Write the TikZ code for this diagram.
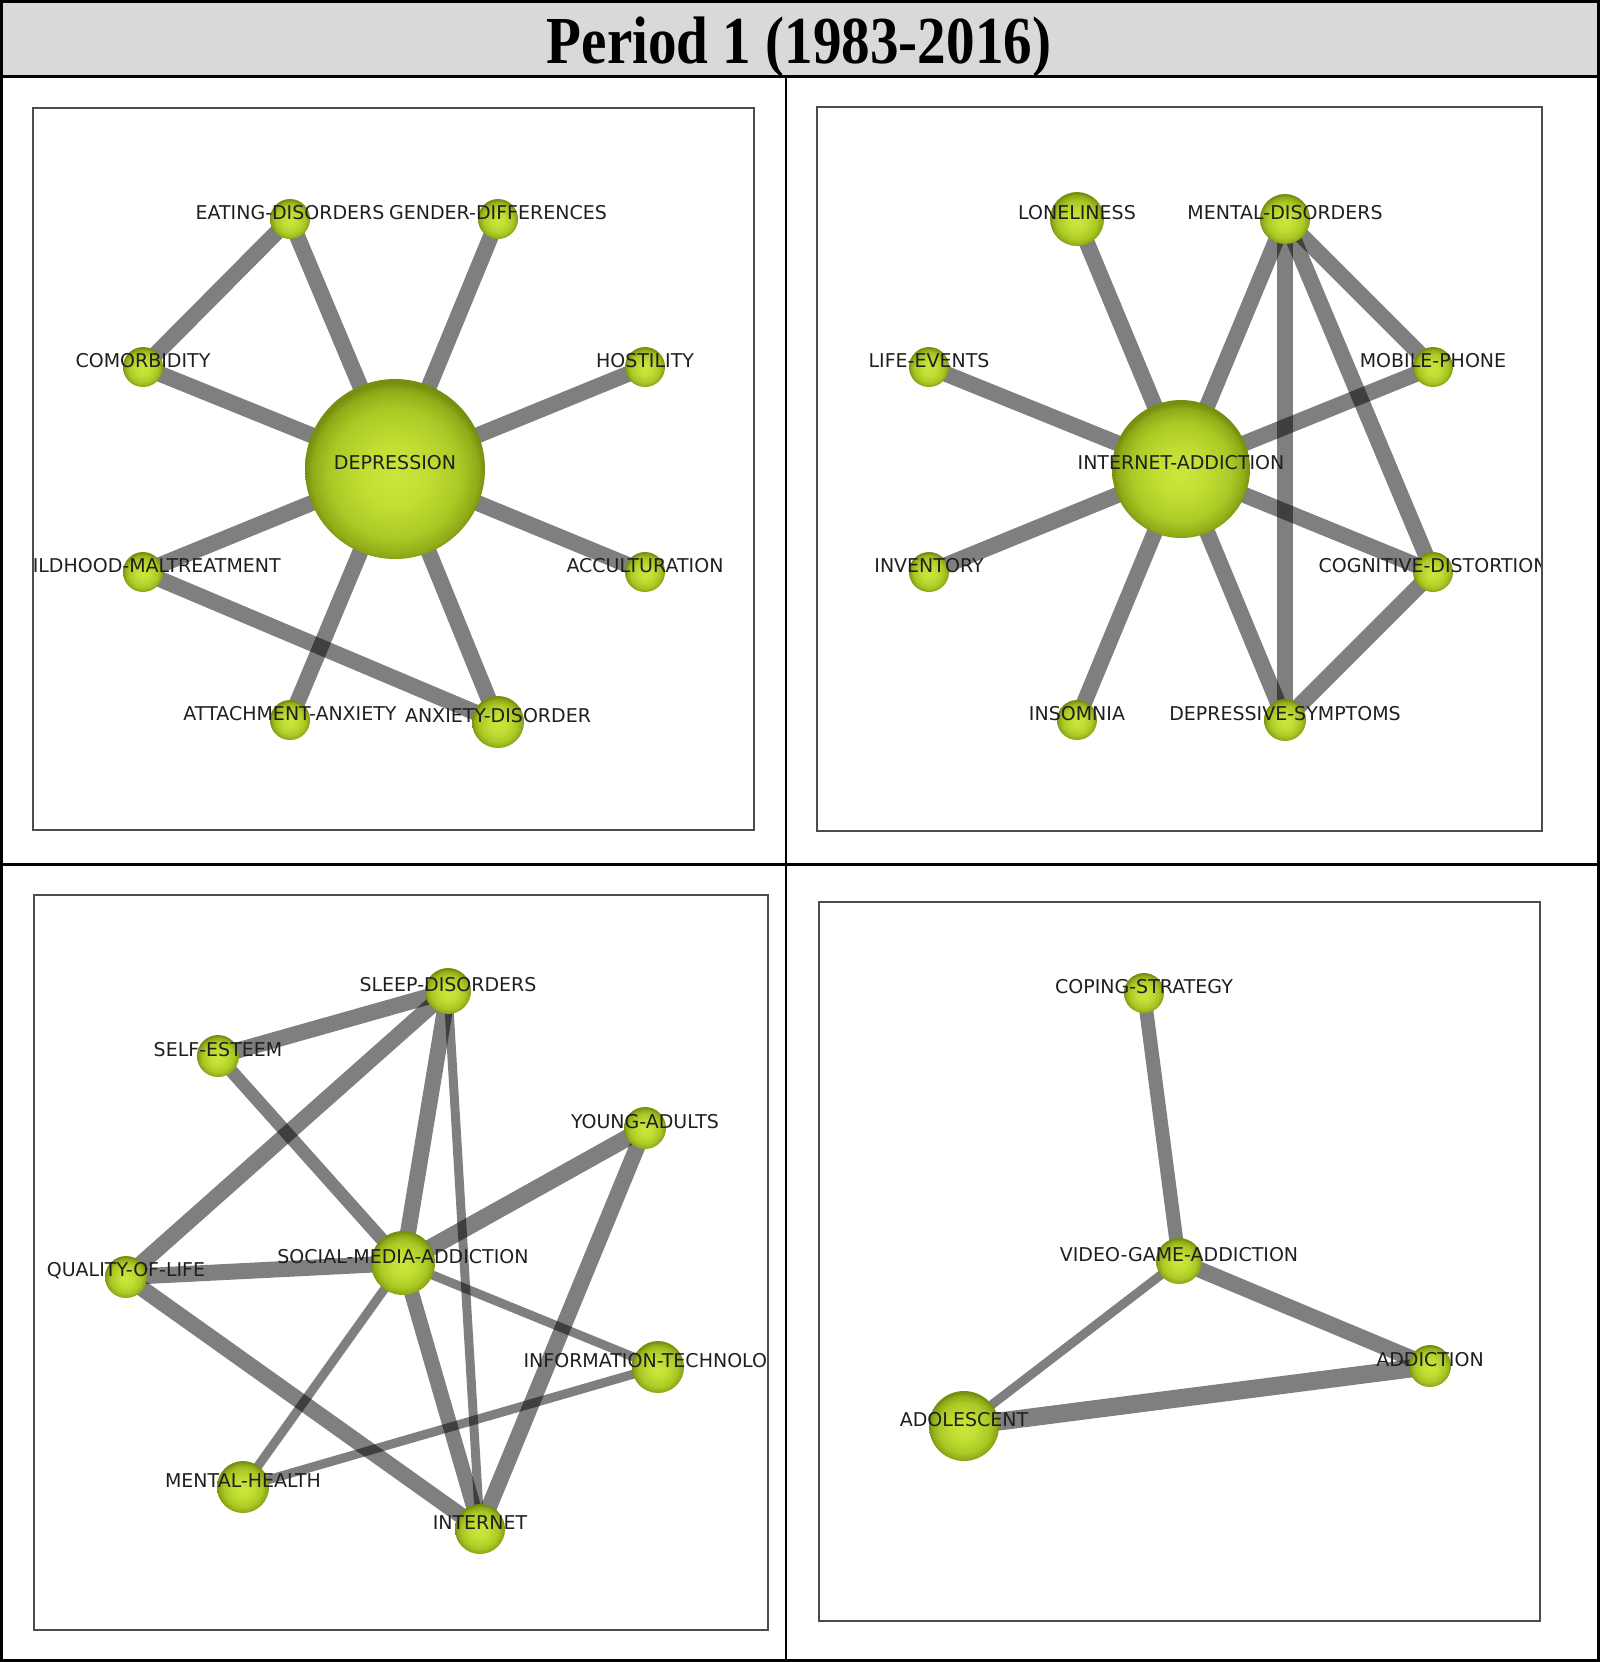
\documentclass[tikz,border=0pt]{standalone}
\usepackage{fontspec}
\setmainfont{Liberation Serif}
\newfontfamily\lblfont{DejaVu Sans}
\pgfdeclarelayer{edges}
\pgfsetlayers{edges,main}
\pgfdeclareradialshading{sphere}{\pgfpoint{0bp}{-2bp}}{rgb(0bp)=(0.80,0.90,0.24); rgb(9bp)=(0.76,0.87,0.20); rgb(18bp)=(0.67,0.79,0.15); rgb(23bp)=(0.56,0.67,0.09); rgb(25bp)=(0.46,0.56,0.06); rgb(50bp)=(0.46,0.56,0.06)}
\tikzset{
  kw/.style={circle, inner sep=0pt, minimum size=#1, shading=sphere},
  kw/.default=20pt,
  lbl/.style={font=\lblfont\fontsize{9.5}{11}\selectfont, text=black!88, inner sep=0pt},
  lnk/.style={line width=#1, draw=black, draw opacity=0.5, line cap=butt},
  lnk/.default=8pt,
  pbox/.style={draw=black!70, line width=1.1pt},
}
\newcommand{\kwnode}[5][20pt]{%
  \node[kw=#1] (#2) at (#3) {};
  \node[lbl] (#2-l) at ([yshift=3.3pt]#2.center) {#5};
}
\begin{document}
\begin{tikzpicture}[x=0.5pt,y=-0.5pt]
\useasboundingbox (0,0) rectangle (1600,1662);
% frame
\fill[black!15] (1.5,1.5) rectangle (1598.5,76);
\node[anchor=base, inner sep=0pt] (title) at (799,63.5) {\scalebox{0.85}[1]{\fontsize{33.6}{38}\selectfont\bfseries Period 1 (1983-2016)}};
\draw[line width=1.5pt] (1.5,1.5) rectangle (1598.5,1660.5);
\draw[line width=1.5pt] (0,76) -- (1600,76);
\draw[line width=1pt] (786,76) -- (786,1662);
\draw[line width=1.5pt] (0,864) -- (1600,864);

% ---------------- Panel 1
\begin{scope}
\clip (33,108) rectangle (754,830);
\kwnode[90pt]{dep}{395,469}{}{DEPRESSION}
\kwnode{eat}{290,219}{}{EATING-DISORDERS}
\kwnode{gen}{498,219}{}{GENDER-DIFFERENCES}
\kwnode{com}{143,367}{}{COMORBIDITY}
\kwnode{hos}{645,367}{}{HOSTILITY}
\kwnode{chi}{143,572}{}{CHILDHOOD-MALTREATMENT}
\kwnode{acc}{645,572}{}{ACCULTURATION}
\kwnode{att}{290,720}{}{ATTACHMENT-ANXIETY}
\kwnode[26pt]{anx}{498,722}{}{ANXIETY-DISORDER}
\begin{pgfonlayer}{edges}
\draw[lnk] (dep.center) -- (eat.center);
\draw[lnk] (dep.center) -- (gen.center);
\draw[lnk] (dep.center) -- (com.center);
\draw[lnk] (dep.center) -- (hos.center);
\draw[lnk] (dep.center) -- (chi.center);
\draw[lnk] (dep.center) -- (acc.center);
\draw[lnk] (dep.center) -- (att.center);
\draw[lnk] (dep.center) -- (anx.center);
\draw[lnk] (eat.center) -- (com.center);
\draw[lnk] (chi.center) -- (anx.center);
\end{pgfonlayer}
\end{scope}
\draw[pbox] (33,108) rectangle (754,830);

% ---------------- Panel 2
\begin{scope}
\clip (817,107) rectangle (1542,831);
\kwnode[69pt]{ia}{1181,469}{}{INTERNET-ADDICTION}
\kwnode[27pt]{lon}{1077,219}{}{LONELINESS}
\kwnode[25pt]{mdis}{1285,219}{}{MENTAL-DISORDERS}
\kwnode{life}{929,367}{}{LIFE-EVENTS}
\kwnode{mob}{1433,367}{}{MOBILE-PHONE}
\kwnode{inv}{929,572}{}{INVENTORY}
\kwnode{cog}{1433,572}{}{COGNITIVE-DISTORTION}
\kwnode{ins}{1077,720}{}{INSOMNIA}
\kwnode[21pt]{dsym}{1285,720}{}{DEPRESSIVE-SYMPTOMS}
\begin{pgfonlayer}{edges}
\draw[lnk] (ia.center) -- (lon.center);
\draw[lnk] (ia.center) -- (mdis.center);
\draw[lnk] (ia.center) -- (life.center);
\draw[lnk] (ia.center) -- (mob.center);
\draw[lnk] (ia.center) -- (inv.center);
\draw[lnk] (ia.center) -- (cog.center);
\draw[lnk] (ia.center) -- (ins.center);
\draw[lnk] (ia.center) -- (dsym.center);
\draw[lnk] (mdis.center) -- (mob.center);
\draw[lnk] (mdis.center) -- (cog.center);
\draw[lnk] (mdis.center) -- (dsym.center);
\draw[lnk] (cog.center) -- (dsym.center);
\end{pgfonlayer}
\end{scope}
\draw[pbox] (817,107) rectangle (1542,831);

% ---------------- Panel 3
\begin{scope}
\clip (34,895) rectangle (768,1630);
\kwnode[32pt]{sma}{403,1263}{}{SOCIAL-MEDIA-ADDICTION}
\kwnode[23pt]{sleep}{448,991}{}{SLEEP-DISORDERS}
\kwnode[21pt]{self}{218,1056}{}{SELF-ESTEEM}
\kwnode[21pt]{young}{645,1128}{}{YOUNG-ADULTS}
\kwnode[21pt]{qol}{126,1277}{}{QUALITY-OF-LIFE}
\kwnode[26pt]{it}{658,1367}{}{INFORMATION-TECHNOLOGY}
\kwnode[26pt]{mh}{243,1487}{}{MENTAL-HEALTH}
\kwnode[25pt]{int}{480,1529}{}{INTERNET}
\begin{pgfonlayer}{edges}
\draw[lnk] (self.center) -- (sleep.center);
\draw[lnk] (sleep.center) -- (qol.center);
\draw[lnk] (sleep.center) -- (sma.center);
\draw[lnk=4.5pt] (sleep.center) -- (int.center);
\draw[lnk=6.5pt] (self.center) -- (sma.center);
\draw[lnk=8.5pt] (young.center) -- (sma.center);
\draw[lnk] (young.center) -- (int.center);
\draw[lnk] (qol.center) -- (sma.center);
\draw[lnk] (qol.center) -- (int.center);
\draw[lnk=4.5pt] (sma.center) -- (it.center);
\draw[lnk=4.5pt] (sma.center) -- (mh.center);
\draw[lnk=7.5pt] (sma.center) -- (int.center);
\draw[lnk=4.5pt] (mh.center) -- (it.center);
\end{pgfonlayer}
\end{scope}
\draw[pbox] (34,895) rectangle (768,1630);

% ---------------- Panel 4
\begin{scope}
\clip (819,902) rectangle (1540,1621);
\kwnode{cop}{1144,993}{}{COPING-STRATEGY}
\kwnode[23pt]{vga}{1179,1261}{}{VIDEO-GAME-ADDICTION}
\kwnode[21pt]{add}{1430,1366}{}{ADDICTION}
\kwnode[35pt]{ado}{964,1426}{}{ADOLESCENT}
\begin{pgfonlayer}{edges}
\draw[lnk=7pt] (cop.center) -- (vga.center);
\draw[lnk=8pt] (vga.center) -- (add.center);
\draw[lnk=9pt] (ado.center) -- (add.center);
\draw[lnk=4.5pt] (vga.center) -- (ado.center);
\end{pgfonlayer}
\end{scope}
\draw[pbox] (819,902) rectangle (1540,1621);
\end{tikzpicture}
\end{document}
